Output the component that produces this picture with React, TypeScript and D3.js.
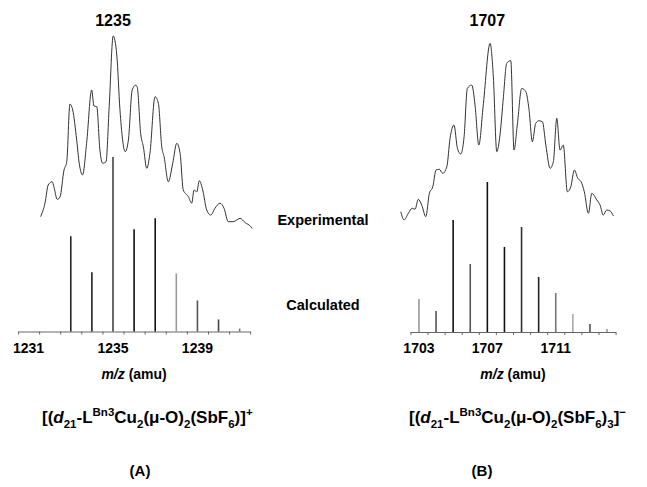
import { useEffect, useRef } from 'react';
import * as d3 from 'd3';

// ---------- data: panel A (m/z 1235) ----------
const calcMzA = [1233, 1234, 1235, 1236, 1237, 1238, 1239, 1240, 1241];
const calcIntA = [54.6, 33.9, 100, 58.6, 64.9, 33.3, 17.8, 6.9, 1.7];
const barShadeA = ['#222', '#222', '#444', '#111', '#111', '#999', '#555', '#444', '#777'];

const expMzA = [
  1231.57, 1231.78, 1231.93, 1232.12, 1232.2, 1232.36, 1232.49, 1232.68, 1232.81, 1232.96,
  1233.09, 1233.28, 1233.4, 1233.56, 1233.75, 1233.99, 1234.1, 1234.23, 1234.38, 1234.51,
  1234.67, 1234.82, 1235.01, 1235.18, 1235.33, 1235.58, 1235.73, 1235.91, 1236.08, 1236.15,
  1236.31, 1236.44, 1236.6, 1236.75, 1236.99, 1237.15, 1237.31, 1237.42, 1237.62, 1237.83,
  1238.02, 1238.18, 1238.33, 1238.57, 1238.73, 1238.84, 1238.97, 1239.09, 1239.25, 1239.44,
  1239.63, 1239.83, 1240.07, 1240.26, 1240.46, 1240.7, 1241.02, 1241.26, 1241.53, 1241.59,
];
const expIntA = [
  6.9, 13.9, 23.2, 24.9, 22.3, 15.8, 17.0, 30.9, 35.2, 64.9,
  61.9, 46.4, 34.4, 28.4, 44.7, 72.2, 63.9, 63.6, 41.2, 34.4,
  35.2, 63.6, 100, 90.2, 61.9, 40.4, 46.4, 72.2, 74.7, 73.6,
  49.8, 42.9, 31.8, 39.5, 68.7, 65.3, 42.9, 37.8, 24.9, 34.4,
  44.7, 39.5, 20.6, 17.2, 13.8, 20.6, 19.7, 25.4, 20.6, 10.3,
  7.7, 11.2, 13.8, 11.2, 4.3, 4.3, 6.0, 3.8, 1.7, 0.8,
];
const tickLabelsA = [1231, 1235, 1239];

// ---------- data: panel B (m/z 1707) ----------
const calcMzB = [1703, 1704, 1705, 1706, 1707, 1708, 1709, 1710, 1711, 1712, 1713, 1714];
const calcIntB = [22.0, 14.0, 74.7, 45.3, 100, 56.7, 70.0, 36.7, 26.0, 12.0, 5.3, 2.0];
const barShadeB = ['#999', '#555', '#111', '#555', '#111', '#111', '#333', '#222', '#777', '#aaa', '#555', '#999'];

const expMzB = [
  1701.94, 1702.13, 1702.38, 1702.61, 1702.77, 1702.96, 1703.16, 1703.4, 1703.61, 1703.81,
  1704.0, 1704.19, 1704.39, 1704.63, 1704.82, 1705.05, 1705.25, 1705.44, 1705.64, 1705.83,
  1706.09, 1706.28, 1706.5, 1706.77, 1707.16, 1707.35, 1707.55, 1707.74, 1707.94, 1708.13,
  1708.37, 1708.56, 1708.75, 1709.01, 1709.25, 1709.44, 1709.63, 1709.83, 1710.02, 1710.22,
  1710.42, 1710.67, 1710.86, 1711.06, 1711.25, 1711.44, 1711.68, 1711.88, 1712.09, 1712.29,
  1712.48, 1712.67, 1712.91, 1713.11, 1713.4, 1713.59, 1713.78, 1713.98, 1714.18, 1714.37,
];
const expIntB = [
  9.4, 5.2, 8.6, 11.2, 10.7, 15.8, 12.9, 6.9, 18.9, 22.3,
  30.9, 31.3, 29.2, 32.6, 47.3, 54.1, 42.1, 39.2, 48.1, 73.0,
  74.7, 64.4, 43.8, 65.3, 96.2, 79.0, 40.4, 49.0, 68.7, 85.9,
  87.3, 41.2, 54.1, 73.0, 71.3, 61.9, 45.5, 55.0, 56.3, 55.8,
  43.8, 31.8, 35.2, 57.6, 41.2, 43.8, 19.7, 22.3, 30.9, 26.6,
  24.9, 19.7, 8.6, 18.9, 15.5, 12.9, 7.7, 10.3, 9.8, 7.2,
];
const tickLabelsB = [1703, 1707, 1711];

const FONT = '"Liberation Sans", Arial, Helvetica, sans-serif';

type Seg = { t: string; k?: 'sub' | 'sup' | 'it' };

const formulaA: Seg[] = [
  { t: '[(' }, { t: 'd', k: 'it' }, { t: '21', k: 'sub' }, { t: '-L' }, { t: 'Bn3', k: 'sup' },
  { t: 'Cu' }, { t: '2', k: 'sub' }, { t: '(\u03bc-O)' }, { t: '2', k: 'sub' }, { t: '(SbF' },
  { t: '6', k: 'sub' }, { t: ')]' }, { t: '+', k: 'sup' },
];
const formulaB: Seg[] = [
  { t: '[(' }, { t: 'd', k: 'it' }, { t: '21', k: 'sub' }, { t: '-L' }, { t: 'Bn3', k: 'sup' },
  { t: 'Cu' }, { t: '2', k: 'sub' }, { t: '(\u03bc-O)' }, { t: '2', k: 'sub' }, { t: '(SbF' },
  { t: '6', k: 'sub' }, { t: ')' }, { t: '3', k: 'sub' }, { t: ']' }, { t: '\u2212', k: 'sup' },
];

const App = () => {
  const svgRef = useRef<SVGSVGElement>(null);

  useEffect(() => {
    const width = 647;
    const height = 487;
    const svg = d3.select(svgRef.current);
    svg.selectAll('*').remove();
    svg.attr('width', width).attr('height', height).attr('viewBox', `0 0 ${width} ${height}`);

    svg.append('rect').attr('width', width).attr('height', height).attr('fill', '#fff');

    // experimental traces share one intensity scale
    const yExp = d3.scaleLinear().domain([0, 100]).range([230, 36]);

    const panels = [
      {
        calcMz: calcMzA, calcInt: calcIntA, shade: barShadeA,
        expMz: expMzA, expInt: expIntA, labels: tickLabelsA,
        domain: [1230.5, 1241.5], range: [18, 250.2],
        base: 331.5, top: 157, title: '1235', titleAt: 1235,
        formula: formulaA, formulaX: 42, tag: '(A)', tagX: 140,
      },
      {
        calcMz: calcMzB, calcInt: calcIntB, shade: barShadeB,
        expMz: expMzB, expInt: expIntB, labels: tickLabelsB,
        domain: [1702.5, 1714.5], range: [410.4, 615.6],
        base: 332, top: 182, title: '1707', titleAt: 1707,
        formula: formulaB, formulaX: 409, tag: '(B)', tagX: 482,
      },
    ];

    panels.forEach(p => {
      const x = d3.scaleLinear().domain(p.domain).range(p.range);
      const yCalc = d3.scaleLinear().domain([0, 100]).range([p.base, p.top]);

      // title
      svg.append('text')
        .attr('x', x(p.titleAt))
        .attr('y', 26)
        .attr('text-anchor', 'middle')
        .style('font-family', FONT)
        .style('font-weight', 'bold')
        .style('font-size', '16px')
        .text(p.title);

      // experimental trace
      const pts = p.expMz.map((m, i) => [m, p.expInt[i]] as [number, number]);
      svg.append('path')
        .datum(pts)
        .attr('fill', 'none')
        .attr('stroke', '#333')
        .attr('stroke-width', 1)
        .attr('stroke-linejoin', 'round')
        .attr('d', d3.line<[number, number]>()
          .x(d => x(d[0]))
          .y(d => yExp(d[1]))
          .curve(d3.curveMonotoneX));

      // axis with half-integer minor ticks
      const ticks = d3.range(p.domain[0], p.domain[1] + 0.01, 1);
      const axis = svg.append('g')
        .attr('transform', `translate(0,${p.base})`)
        .call(d3.axisBottom(x).tickValues(ticks).tickSize(3).tickSizeOuter(0).tickFormat(() => ''));
      axis.select('.domain').attr('stroke', '#666');
      axis.selectAll('.tick line').attr('stroke', '#666');

      // calculated isotope bars
      svg.selectAll(null)
        .data(p.calcMz)
        .enter()
        .append('line')
        .attr('x1', d => x(d))
        .attr('x2', d => x(d))
        .attr('y1', p.base)
        .attr('y2', (d, i) => yCalc(p.calcInt[i]))
        .attr('stroke', (d, i) => p.shade[i])
        .attr('stroke-width', 1.6);

      // tick labels
      svg.selectAll(null)
        .data(p.labels)
        .enter()
        .append('text')
        .attr('x', d => x(d))
        .attr('y', 353)
        .attr('text-anchor', 'middle')
        .style('font-family', FONT)
        .style('font-weight', 'bold')
        .style('font-size', '14px')
        .text(d => d);

      // axis title
      const at = svg.append('text')
        .attr('x', (p.range[0] + p.range[1]) / 2)
        .attr('y', 379)
        .attr('text-anchor', 'middle')
        .style('font-family', FONT)
        .style('font-weight', 'bold')
        .style('font-size', '14px');
      at.append('tspan').style('font-style', 'italic').text('m/z');
      at.append('tspan').text(' (amu)');

      // formula
      const f = svg.append('text')
        .attr('x', p.formulaX)
        .attr('y', 423)
        .style('font-family', FONT)
        .style('font-weight', 'bold')
        .style('font-size', '17px');
      let shift = 0;
      p.formula.forEach(s => {
        const target = s.k === 'sub' ? 5 : s.k === 'sup' ? -7 : 0;
        const ts = f.append('tspan').attr('dy', target - shift).text(s.t);
        shift = target;
        if (s.k === 'sub' || s.k === 'sup') ts.style('font-size', '11.5px');
        if (s.k === 'it') ts.style('font-style', 'italic');
      });

      // panel tag
      svg.append('text')
        .attr('x', p.tagX)
        .attr('y', 476)
        .attr('text-anchor', 'middle')
        .style('font-family', FONT)
        .style('font-weight', 'bold')
        .style('font-size', '15px')
        .text(p.tag);
    });

    // centre labels
    [['Experimental', 225], ['Calculated', 310]].forEach(([t, y]) => {
      svg.append('text')
        .attr('x', 323)
        .attr('y', y as number)
        .attr('text-anchor', 'middle')
        .style('font-family', FONT)
        .style('font-weight', 'bold')
        .style('font-size', '14.5px')
        .text(t as string);
    });
  }, []);

  return (
    <svg ref={svgRef} style={{ position: 'absolute', left: 0, top: 0, display: 'block' }}></svg>
  );
};

export default App;
